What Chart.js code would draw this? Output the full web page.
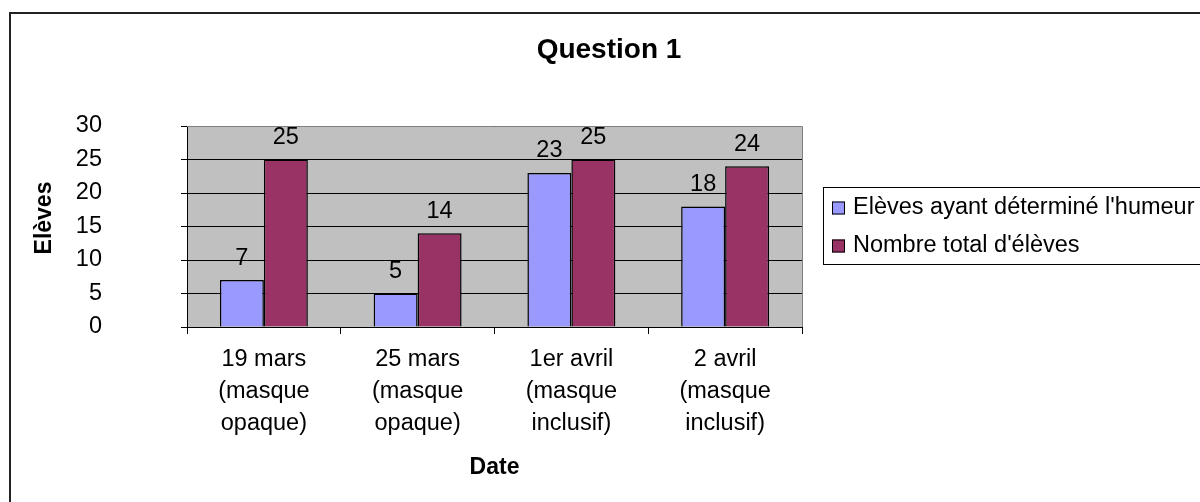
<!DOCTYPE html>
<html>
<head>
<meta charset="utf-8">
<script src="https://cdn.jsdelivr.net/npm/chart.js@4.4.1/dist/chart.umd.min.js"></script>
<style>
html,body{margin:0;padding:0;background:#fff}
#wrap{width:1200px;height:502px}
</style>
</head>
<body>
<div id="wrap"><canvas id="c" width="1200" height="502"></canvas></div>
<script>
const TITLE='Question 1';
const X_TITLE='Date';
const Y_TITLE='Elèves';
const CATEGORIES=[['19 mars','(masque','opaque)'],['25 mars','(masque','opaque)'],['1er avril','(masque','inclusif)'],['2 avril','(masque','inclusif)']];
const SERIES_NAMES=["Elèves ayant déterminé l'humeur","Nombre total d'élèves"];
const DETERMINED=[7,5,23,18];
const TOTAL=[25,14,25,24];
const Y_TICKS=[0,5,10,15,20,25,30];

const FONT="'Liberation Sans', Arial, sans-serif";
const FS=23.5;

// background, frame, title, legend and the value labels over the bars
const extras={
  id:'extras',
  beforeDraw(chart){
    const {ctx,chartArea:a}=chart;
    ctx.save();
    ctx.fillStyle='#fff';
    ctx.fillRect(0,0,chart.width,chart.height);
    ctx.fillStyle='#c0c0c0';
    ctx.fillRect(a.left,a.top,a.right-a.left,a.bottom-a.top);
    ctx.restore();
  },
  afterDatasetsDraw(chart){
    const ctx=chart.ctx;
    ctx.save();
    ctx.font=FS+'px '+FONT;
    ctx.fillStyle='#000';
    ctx.textAlign='center';
    ctx.textBaseline='middle';
    chart.data.datasets.forEach((ds,i)=>{
      chart.getDatasetMeta(i).data.forEach((bar,j)=>{
        ctx.fillText(String(ds.data[j]),bar.x,bar.y-22);
      });
    });
    ctx.restore();
  },
  afterDraw(chart){
    const {ctx,chartArea:a}=chart;
    ctx.save();
    // plot area top/right edge
    ctx.strokeStyle='#808080';ctx.lineWidth=1;
    ctx.beginPath();
    ctx.moveTo(a.left,a.top+0.5);ctx.lineTo(a.right+0.5,a.top+0.5);ctx.lineTo(a.right+0.5,a.bottom);
    ctx.stroke();
    // outer frame
    ctx.strokeStyle='#222';ctx.lineWidth=2;
    ctx.strokeRect(10,13,1300,600);
    // title
    ctx.fillStyle='#000';
    ctx.textAlign='center';ctx.textBaseline='middle';
    ctx.font='bold 28px '+FONT;
    ctx.fillText(TITLE,609,50);
    // y title
    ctx.save();
    ctx.translate(45,218);ctx.rotate(-Math.PI/2);
    ctx.font='bold 23px '+FONT;
    ctx.fillText(Y_TITLE,0,0);
    ctx.restore();
    // legend
    ctx.strokeStyle='#000';ctx.lineWidth=1;
    ctx.strokeRect(823.5,187.5,500,77);
    ctx.font=FS+'px '+FONT;ctx.textAlign='left';
    chart.data.datasets.forEach((ds,i)=>{
      const cy=207.5+i*38;
      ctx.fillStyle=ds.backgroundColor;
      ctx.fillRect(832,cy-6,13,13);
      ctx.strokeRect(832.5,cy-5.5,12,12);
      ctx.fillStyle='#000';
      ctx.fillText(ds.label,853,cy);
    });
    ctx.restore();
  }
};

new Chart(document.getElementById('c'),{
  type:'bar',
  data:{
    labels:CATEGORIES,
    datasets:[
      {label:SERIES_NAMES[0],data:DETERMINED,backgroundColor:'#9999ff',borderColor:'#000',borderWidth:1.5},
      {label:SERIES_NAMES[1],data:TOTAL,backgroundColor:'#993366',borderColor:'#000',borderWidth:1.5}
    ]
  },
  options:{
    responsive:false,
    animation:false,
    devicePixelRatio:1,
    categoryPercentage:0.572,
    barPercentage:1.0,
    layout:{padding:{top:126,right:398,left:0,bottom:0}},
    plugins:{legend:{display:false},title:{display:false},tooltip:{enabled:false}},
    scales:{
      x:{
        grid:{display:true,drawOnChartArea:false,tickLength:7,color:'#000',offset:true},
        border:{color:'#000',width:1},
        ticks:{color:'#000',padding:10,font:{family:FONT,size:FS,lineHeight:32/FS}},
        title:{display:true,text:X_TITLE,color:'#000',font:{family:FONT,size:23,weight:'bold'},padding:{top:0,bottom:21}},
        afterFit(s){s.height=175;}
      },
      y:{
        min:Y_TICKS[0],max:Y_TICKS[Y_TICKS.length-1],
        grid:{color:'#000',tickLength:6,lineWidth:1},
        border:{color:'#000',width:1},
        ticks:{stepSize:Y_TICKS[1]-Y_TICKS[0],color:'#000',padding:79,font:{family:FONT,size:FS}},
        afterFit(s){s.width=187;}
      }
    }
  },
  plugins:[extras]
});
</script>
</body>
</html>
